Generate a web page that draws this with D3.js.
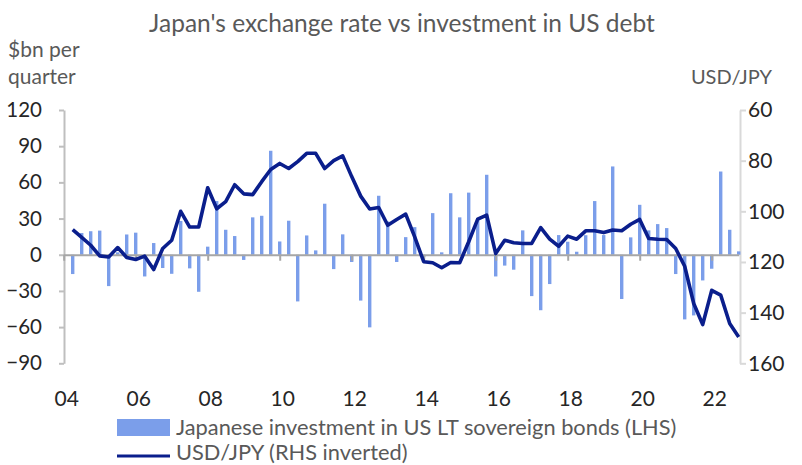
<!DOCTYPE html>
<html>
<head>
<meta charset="utf-8">
<script src="https://cdn.jsdelivr.net/npm/d3@7/dist/d3.min.js"></script>
<style>
  body { margin: 0; background: #fff; }
  svg text { font-family: Lato, "Open Sans", sans-serif; }
</style>
</head>
<body>
<svg id="canvas" width="802" height="465"></svg>
<script>
// Japanese net purchases of US LT sovereign bonds, $bn per quarter, 2004Q1 - 2022Q3
var bonds = [
  -16, 18, 19.5, 20, -26, 2, 16.8, 18.3, -18, 9.7, -11, -15.8,
  28, -11.3, -30.7, 6.7, 44.5, 20.7, 15.5, -4.3, 31, 32.3, 86.2, 11,
  28.2, -38.7, 16, 3.6, 42.3, -11.9, 16.9, -6, -38, -60.2, 48.9, 27.6,
  -6, 14.6, 22.9, -2, 34.5, 2, 51, 31, 51.5, 30.5, 66.3, -18,
  -9, -12.4, 20.2, -34.3, -46, -24.3, 16.3, 10.8, 2.5, 16.2, 44.5, 16.3,
  73.2, -36.7, 14.4, 41.4, 20.2, 25.4, 22.1, -16, -53.6, -50.3, -21.3, -11.6,
  69, 20.7, 2.8
];
// USD/JPY, same quarters
var usdjpy = [
  107.2, 110.3, 113.4, 117.6, 118, 114.3, 118.2, 119, 117.7, 123, 114.7, 111.4,
  100, 106.2, 106.2, 90.7, 99, 96.2, 89.5, 93.1, 93.4, 88.3, 83.5, 81.1,
  83.1, 80.4, 77.1, 77.1, 83.1, 80, 78.1, 86.3, 94, 99.1, 98.5, 105.5,
  103.2, 101.1, 110.1, 119.9, 120.3, 122.3, 120.2, 120.3, 112, 103.1, 101.5, 116.7,
  111.4, 112.4, 112.7, 112.7, 106.4, 111, 113.8, 109.8, 111, 107.7, 107.7, 108.4,
  107.4, 107.7, 105.1, 103.2, 110.7, 111, 111.1, 114.7, 121.7, 136.4, 144.7, 131.2,
  133.1, 144.3, 149.6
];
var yearTicks = [2004, 2006, 2008, 2010, 2012, 2014, 2016, 2018, 2020, 2022];
var leftTicks = [-90, -60, -30, 0, 30, 60, 90, 120];
var rightTicks = [60, 80, 100, 120, 140, 160];
var legendLabels = ["Japanese investment in US LT sovereign bonds (LHS)", "USD/JPY (RHS inverted)"];

var barColor = "#7b9eea";
var lineColor = "#0a1e8c";
var textColor = "#595959";

var canvas = d3.select("#canvas");

// quarter i plotted at end of quarter
function qPos(i) { return 2004 + (i + 1) / 4; }

var x = d3.scaleLinear().domain([2004, 2022.75]).range([63.7, 738.7]);
var yL = d3.scaleLinear().domain([-90, 120]).range([363.3, 110]);
var yR = d3.scaleLinear().domain([60, 160]).range([110, 363.3]);

// title
canvas.append("text")
  .attr("x", 402).attr("y", 32)
  .attr("text-anchor", "middle")
  .attr("font-size", 24.5)
  .attr("fill", textColor)
  .text("Japan's exchange rate vs investment in US debt");

// axis titles
canvas.append("text").attr("x", 8).attr("y", 57).attr("font-size", 21).attr("fill", textColor).text("$bn per");
canvas.append("text").attr("x", 8).attr("y", 84).attr("font-size", 21).attr("fill", textColor).text("quarter");
canvas.append("text").attr("x", 772).attr("y", 84).attr("text-anchor", "end").attr("font-size", 20).attr("fill", textColor).text("USD/JPY");

// left axis
var leftAxis = canvas.append("g")
  .attr("transform", "translate(64,0)")
  .call(d3.axisLeft(yL).tickValues(leftTicks).tickSize(5).tickPadding(17).tickSizeOuter(0));
leftAxis.select(".domain").attr("stroke", "#bfbfbf").attr("stroke-width", 2);
leftAxis.selectAll(".tick line").attr("stroke", "#bfbfbf").attr("stroke-width", 2);
leftAxis.selectAll("text").attr("font-size", 20.5).attr("fill", "#262626").attr("font-family", "Lato, sans-serif");

// right axis
var rightAxis = canvas.append("g")
  .attr("transform", "translate(740,0)")
  .call(d3.axisRight(yR).tickValues(rightTicks).tickSize(6).tickPadding(2).tickSizeOuter(0));
rightAxis.select(".domain").attr("stroke", "#d9d9d9").attr("stroke-width", 2);
rightAxis.selectAll(".tick line").attr("stroke", "#d9d9d9").attr("stroke-width", 2);
rightAxis.selectAll("text").attr("font-size", 21).attr("fill", "#262626").attr("font-family", "Lato, sans-serif");

// bars
canvas.append("g")
  .selectAll("rect")
  .data(bonds)
  .enter()
  .append("rect")
  .attr("x", function(d, i) { return x(qPos(i)) - 1.7; })
  .attr("width", 3.4)
  .attr("y", function(d) { return yL(Math.max(0, d)); })
  .attr("height", function(d) { return Math.abs(yL(d) - yL(0)); })
  .attr("fill", barColor);

// x axis along zero
var xAxis = canvas.append("g")
  .attr("transform", "translate(0," + yL(0) + ")")
  .call(d3.axisBottom(x).tickValues(yearTicks).tickSize(6).tickSizeOuter(0).tickFormat(function() { return ""; }));
xAxis.select(".domain").attr("stroke", "#a6a6a6").attr("stroke-width", 2.2);
xAxis.selectAll(".tick line").attr("stroke", "#a6a6a6").attr("stroke-width", 2);

// x labels at bottom
canvas.append("g")
  .selectAll("text")
  .data(yearTicks)
  .enter()
  .append("text")
  .attr("x", function(d) { return x(d) + 3; })
  .attr("y", 406)
  .attr("text-anchor", "middle")
  .attr("font-size", 21)
  .attr("fill", "#262626")
  .text(function(d) { return d3.format("02d")(d % 100); });

// line
var line = d3.line()
  .x(function(d, i) { return x(qPos(i)); })
  .y(function(d) { return yR(d); });
canvas.append("path")
  .datum(usdjpy)
  .attr("d", line)
  .attr("fill", "none")
  .attr("stroke", lineColor)
  .attr("stroke-width", 3.6)
  .attr("stroke-linejoin", "round");

// legend
canvas.append("rect").attr("x", 117).attr("y", 419).attr("width", 53).attr("height", 17).attr("fill", barColor);
canvas.append("text").attr("x", 176).attr("y", 435).attr("font-size", 21.8).attr("fill", textColor).text(legendLabels[0]);
canvas.append("line").attr("x1", 117).attr("x2", 170).attr("y1", 456).attr("y2", 456).attr("stroke", lineColor).attr("stroke-width", 3);
canvas.append("text").attr("x", 176).attr("y", 460).attr("font-size", 21.8).attr("fill", textColor).text(legendLabels[1]);
</script>
</body>
</html>
